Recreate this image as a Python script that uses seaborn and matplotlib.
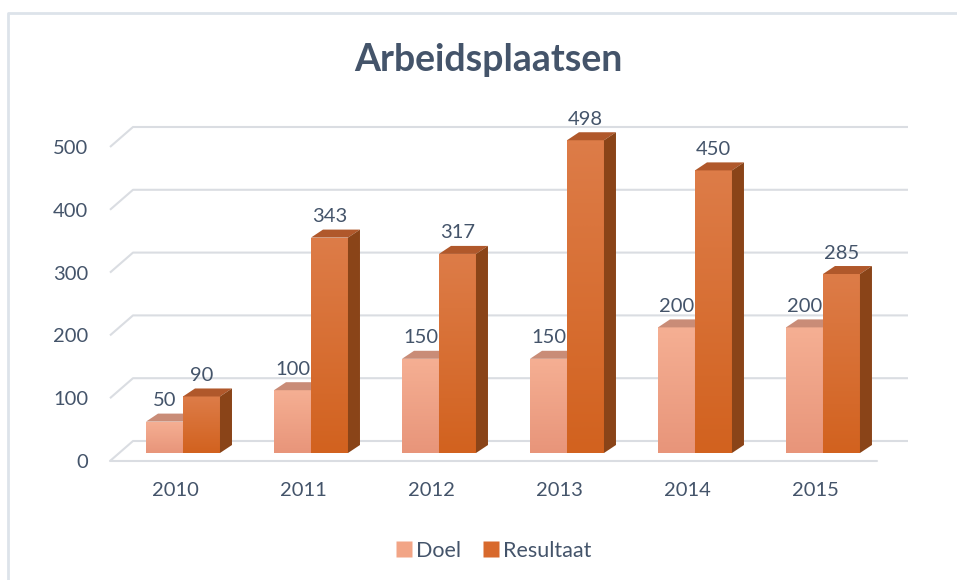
import numpy as np
import pandas as pd
import matplotlib
matplotlib.use('Agg')
import matplotlib.pyplot as plt
from matplotlib.patches import Polygon
from matplotlib.lines import Line2D
from matplotlib.colors import LinearSegmentedColormap
import seaborn as sns

# Data
jaren = ['2010', '2011', '2012', '2013', '2014', '2015']
doel = [50, 100, 150, 150, 200, 200]
resultaat = [90, 343, 317, 498, 450, 285]
y_ticks = [0, 100, 200, 300, 400, 500]

df = pd.DataFrame({
    'Jaar': jaren * 2,
    'Reeks': ['Doel'] * len(jaren) + ['Resultaat'] * len(jaren),
    'Waarde': doel + resultaat,
})

tekst_kleur = '#44546A'
grid_kleur = '#DADDE2'
kleuren = {'Doel': '#F2A586', 'Resultaat': '#D8692C'}
# front gradient (top, bottom), top face, side face
vlakken = {
    'Doel': ('#F5AF93', '#E8957A', '#C98C77', '#B97560'),
    'Resultaat': ('#DD7C48', '#D2621F', '#B0582B', '#8A4418'),
}

sns.set_theme(style='white')
plt.rcParams['font.family'] = ['Lato', 'DejaVu Sans']

fig = plt.figure(figsize=(9.57, 5.8), dpi=100)
W, H = 957, 580

# axes placed in pixel terms
ax = fig.add_axes([100 / W, (H - 470) / H, 820 / W, 355 / H])
ax.set_xlim(-0.6484, 5.758)
ax.set_ylim(-27.07, 538.2)

# pseudo 3D offsets
px_x = 128.0    # pixels per category
px_y = 0.628    # pixels per unit
voor = -8 / px_y
achter = 12 / px_y
bar_dx = 12 / px_x
bar_dy = 8 / px_y

# walls and floor grid
xl_v = (110 - 183) / px_x
xl_a = (133 - 183) / px_x
xr_a = (908 - 183) / px_x
xr_v = (877 - 183) / px_x
for v in y_ticks:
    ax.plot([xl_v, xl_a, xr_a], [v + voor, v + achter, v + achter],
            color=grid_kleur, lw=1.5, zorder=1, solid_capstyle='butt')
ax.plot([xl_v, xr_v], [voor, voor], color=grid_kleur, lw=1.5, zorder=1)

sns.barplot(data=df, x='Jaar', y='Waarde', hue='Reeks', palette=kleuren,
            width=0.578, saturation=1, legend=False, ax=ax)

for i, (reeks, cont) in enumerate(zip(['Doel', 'Resultaat'], ax.containers)):
    top_c, bot_c, dak_c, zij_c = vlakken[reeks]
    cmap = LinearSegmentedColormap.from_list(reeks, [bot_c, top_c])
    z = 2 + 2 * i
    for p in cont.patches:
        x0, w, h = p.get_x(), p.get_width(), p.get_height()
        x1 = x0 + w
        p.set_zorder(z)
        p.set_edgecolor('none')
        grad = np.linspace(0, 1, 64).reshape(-1, 1)
        im = ax.imshow(grad, extent=[x0, x1, 0, h], origin='lower', cmap=cmap,
                       aspect='auto', zorder=z + 0.1, interpolation='bilinear')
        im.set_clip_path(p)
        dak = Polygon([(x0, h), (x1, h), (x1 + bar_dx, h + bar_dy), (x0 + bar_dx, h + bar_dy)],
                      closed=True, facecolor=dak_c, edgecolor='none', zorder=z + 0.2)
        zij = Polygon([(x1, 0), (x1 + bar_dx, bar_dy), (x1 + bar_dx, h + bar_dy), (x1, h)],
                      closed=True, facecolor=zij_c, edgecolor='none', zorder=z + 0.2)
        ax.add_patch(dak)
        ax.add_patch(zij)
    ax.bar_label(cont, labels=[str(int(p.get_height())) for p in cont.patches],
                 padding=9, fontsize=14.5, color=tekst_kleur, zorder=6)

ax.set_xlim(-0.6484, 5.758)
ax.set_ylim(-27.07, 538.2)

ax.set_yticks([v + voor for v in y_ticks])
ax.set_yticklabels([str(v) for v in y_ticks])
ax.set_xticks(np.arange(len(jaren)) - 0.06)
ax.set_xticklabels(jaren)
ax.tick_params(axis='y', length=0, pad=8.6, labelsize=14.5, labelcolor=tekst_kleur)
ax.tick_params(axis='x', length=0, pad=9, labelsize=14.5, labelcolor=tekst_kleur)
ax.set_xlabel('')
ax.set_ylabel('')
sns.despine(ax=ax, left=True, bottom=True)
ax.patch.set_alpha(0)

fig.text(488 / W, (H - 60) / H, 'Arbeidsplaatsen', ha='center', va='center',
         fontsize=27, fontweight='bold', color=tekst_kleur)

handles = [Line2D([], [], marker='s', linestyle='none', markersize=12,
                  markerfacecolor=kleuren[k], markeredgecolor='none', label=k)
           for k in ['Doel', 'Resultaat']]
fig.legend(handles=handles, loc='center', bbox_to_anchor=(492 / W, 29 / H), ncol=2,
           frameon=False, fontsize=15.5, labelcolor=tekst_kleur, handletextpad=0.05,
           columnspacing=0.9, handlelength=1.0)

# chart border (only top and left visible in the crop)
fig.add_artist(Line2D([8 / W, 8 / W, 1], [0, (H - 13) / H, (H - 13) / H],
                      transform=fig.transFigure, color='#DDE3EA', lw=2))

plt.savefig('out.png', dpi=100)
